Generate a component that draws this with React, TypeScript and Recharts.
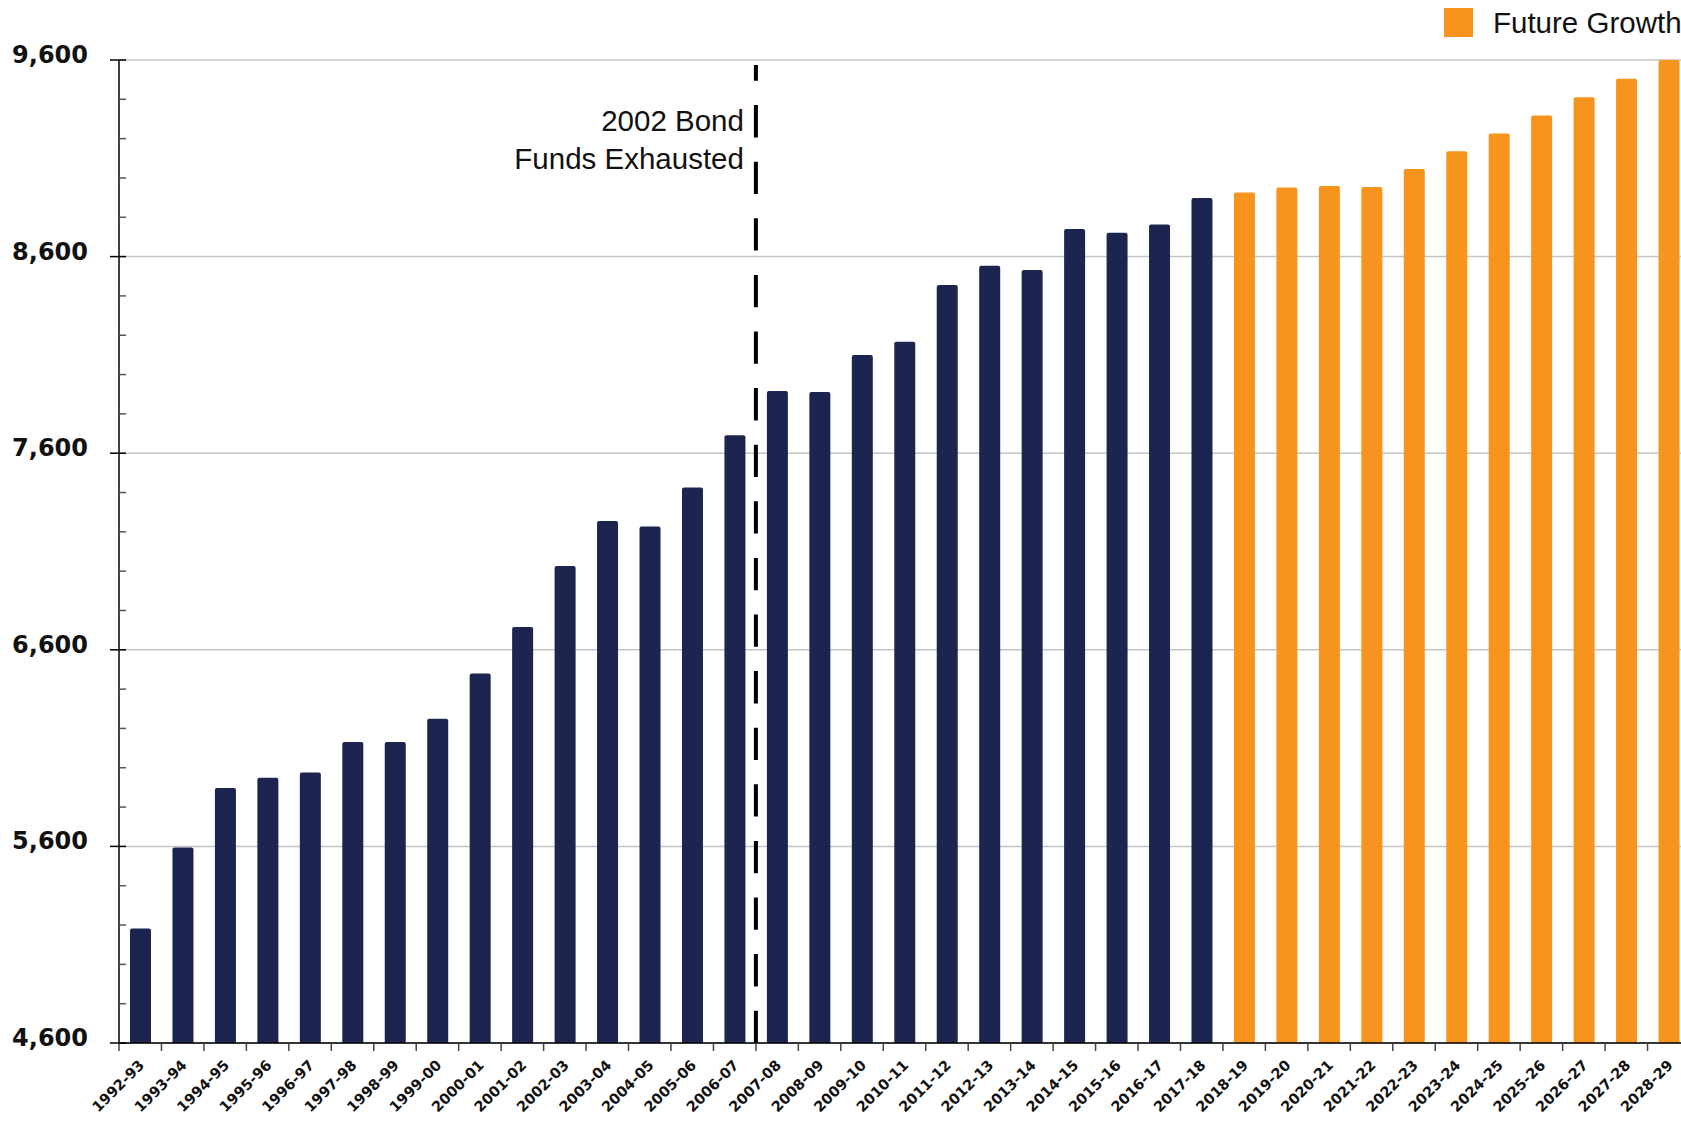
import React from 'react';
import { BarChart, Bar, Cell, XAxis, YAxis, CartesianGrid, ReferenceLine } from 'recharts';

// school years on the x axis
const years = [
  '1992-93', '1993-94', '1994-95', '1995-96', '1996-97', '1997-98', '1998-99', '1999-00',
  '2000-01', '2001-02', '2002-03', '2003-04', '2004-05', '2005-06', '2006-07', '2007-08',
  '2008-09', '2009-10', '2010-11', '2011-12', '2012-13', '2013-14', '2014-15', '2015-16',
  '2016-17', '2017-18', '2018-19', '2019-20', '2020-21', '2021-22', '2022-23', '2023-24',
  '2024-25', '2025-26', '2026-27', '2027-28', '2028-29',
];

// historical (navy) and projected (orange) values
const actualValues = [
  5183, 5595, 5897, 5949, 5976, 6131, 6131, 6249, 6479, 6716, 7026, 7255, 7227,
  7425, 7691, 7916, 7911, 8100, 8167, 8456, 8554, 8532, 8740, 8721, 8763, 8898,
];
const futureValues = [8926, 8952, 8959, 8954, 9045, 9136, 9226, 9318, 9411, 9504, 9600];

const yTicks = [
  4600, 4800, 5000, 5200, 5400, 5600, 5800, 6000, 6200, 6400, 6600, 6800, 7000,
  7200, 7400, 7600, 7800, 8000, 8200, 8400, 8600, 8800, 9000, 9200, 9400, 9600,
];
const majorTicks = [4600, 5600, 6600, 7600, 8600, 9600];

const bondYear = '2007-08';
const bondTop = 9575;
const legendLabel = 'Future Growth';
const noteLines = ['2002 Bond', 'Funds Exhausted'];

const NAVY = '#1c2550';
const ORANGE = '#f7941e';

const data = years.map((year, i) => ({
  year,
  value: i < actualValues.length ? actualValues[i] : futureValues[i - actualValues.length],
  future: i >= actualValues.length,
}));

const YTick = (props: any) => {
  const { x, y, payload } = props;
  const major = majorTicks.includes(payload.value);
  return (
    <g>
      <line x1={major ? x - 9 : x} x2={x + 7} y1={y} y2={y} stroke={major ? '#000' : '#555'} strokeWidth={1.5} />
      {major && (
        <text x={x - 31} y={y + 3} textAnchor="end" fontFamily="DejaVu Sans" fontWeight={700} fontSize={24} fill="#111">
          {payload.value.toLocaleString('en-US')}
        </text>
      )}
    </g>
  );
};

const XTick = (props: any) => {
  const { x, y, payload } = props;
  const half = payload.offset ?? 21.2;
  return (
    <g>
      <line x1={x - half} x2={x - half} y1={y} y2={y + 8} stroke="#444" strokeWidth={1.5} />
      <text
        transform={`translate(${x + 5},${y + 23}) rotate(-45)`}
        textAnchor="end"
        fontFamily="DejaVu Sans"
        fontWeight={700}
        fontSize={14.5}
        fill="#111"
      >
        {payload.value}
      </text>
    </g>
  );
};

const NoteLabel = (props: any) => {
  const vb = props.viewBox || {};
  const x = vb.x ?? Math.min(vb.x1, vb.x2);
  const top = vb.y ?? Math.min(vb.y1, vb.y2);
  return (
    <text x={x - 12} y={top + 66} textAnchor="end" fontFamily="Liberation Sans" fontSize={29.5} fill="#111">
      <tspan x={x - 12}>{noteLines[0]}</tspan>
      <tspan x={x - 12} dy={38}>{noteLines[1]}</tspan>
    </text>
  );
};

export default function App() {
  return (
    <div style={{ position: 'fixed', left: 0, top: 0, width: 1681, height: 1125, overflow: 'hidden', background: '#fff' }}>
      <BarChart width={1700} height={1125} data={data} margin={{ top: 60, right: 10, bottom: 0, left: 0 }} barSize={21}>
        <CartesianGrid vertical={false} horizontalValues={majorTicks} stroke="#c4c4c4" strokeWidth={1.5} />
        <XAxis
          dataKey="year"
          interval={0}
          height={82}
          tickSize={0}
          tickMargin={0}
          tick={<XTick />}
          tickLine={false}
          axisLine={{ stroke: '#000', strokeWidth: 1.5 }}
        />
        <YAxis
          type="number"
          domain={[4600, 9600]}
          ticks={yTicks}
          interval={0}
          width={119}
          tickSize={0}
          tickMargin={0}
          tick={<YTick />}
          tickLine={false}
          axisLine={{ stroke: '#000', strokeWidth: 1.5 }}
        />
        <Bar dataKey="value" isAnimationActive={false} radius={[2, 2, 0, 0]}>
          {data.map((d) => (
            <Cell key={d.year} fill={d.future ? ORANGE : NAVY} />
          ))}
        </Bar>
        <ReferenceLine
          segment={[{ x: bondYear, y: 4600 }, { x: bondYear, y: bondTop }]}
          position="start"
          stroke="#000"
          strokeWidth={4}
          strokeDasharray="32.3 24.3"
          label={<NoteLabel />}
        />
      </BarChart>
      <div style={{ position: 'absolute', left: 1444, top: 8, display: 'flex', alignItems: 'center', whiteSpace: 'nowrap' }}>
        <span style={{ display: 'inline-block', width: 29, height: 29, background: ORANGE }} />
        <span style={{ marginLeft: 20, fontFamily: 'Liberation Sans', fontSize: 29.5, color: '#111', lineHeight: '29px' }}>
          {legendLabel}
        </span>
      </div>
    </div>
  );
}
